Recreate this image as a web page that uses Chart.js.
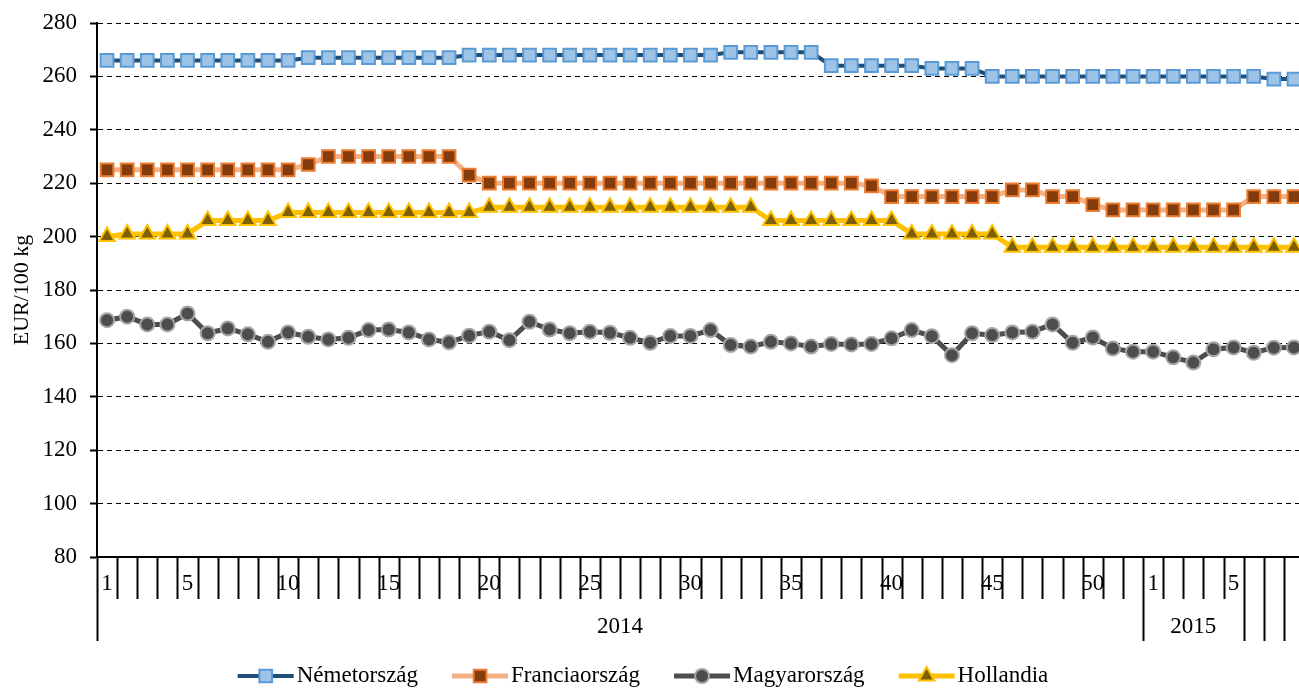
<!DOCTYPE html>
<html>
<head>
<meta charset="utf-8">
<script src="https://cdn.jsdelivr.net/npm/chart.js@4.4.1/dist/chart.umd.min.js"></script>
<style>
  html, body { margin: 0; padding: 0; background: #fff; overflow: hidden; }
  /* the plot runs slightly past the right edge of the window, as in the original */
  #wrap { width: 1304px; height: 688px; position: relative; }
</style>
</head>
<body>
<div id="wrap"><canvas id="myChart"></canvas></div>
<script>
// week labels (2014 weeks 1-52, then 2015 weeks 1-8), only some are printed
const weekLabels = [
  '1','','','','5','','','','','10',
  '','','','','15','','','','','20',
  '','','','','25','','','','','30',
  '','','','','35','','','','','40',
  '','','','','45','','','','','50',
  '','',
  '1','','','','5','','',''
];
const yearLabels = ['2014', '2015', '', '', ''];
const yearSpans = [52, 5, 1, 1, 1];

const seriesNames = ['Németország', 'Franciaország', 'Magyarország', 'Hollandia'];

const germany = [
  266,266,266,266,266,266,266,266,266,266,
  267,267,267,267,267,267,267,267,268,268,
  268,268,268,268,268,268,268,268,268,268,
  268,269,269,269,269,269,264,264,264,264,
  264,263,263,263,260,260,260,260,260,260,
  260,260,260,260,260,260,260,260,259,259
];
const france = [
  225,225,225,225,225,225,225,225,225,225,
  227,230,230,230,230,230,230,230,223,220,
  220,220,220,220,220,220,220,220,220,220,
  220,220,220,220,220,220,220,220,219,215,
  215,215,215,215,215,217.5,217.5,215,215,212,
  210,210,210,210,210,210,210,215,215,215
];
const hungary = [
  168.7,170.0,167.1,167.1,171.2,163.8,165.6,163.4,160.6,164.1,
  162.5,161.5,162.1,165.0,165.2,164.1,161.5,160.4,162.9,164.4,
  161.2,168.1,165.2,163.8,164.4,164.0,162.1,160.2,162.8,162.8,
  165.0,159.4,158.8,160.6,160.0,158.8,159.8,159.6,159.8,161.9,
  165.0,162.7,155.6,163.8,163.1,164.1,164.4,167.1,160.2,162.2,
  158.1,156.9,156.9,154.8,152.8,157.8,158.5,156.5,158.4,158.5
];
const netherlands = [
  200,201,201,201,201,206,206,206,206,209,
  209,209,209,209,209,209,209,209,209,211,
  211,211,211,211,211,211,211,211,211,211,
  211,211,211,206,206,206,206,206,206,206,
  201,201,201,201,201,196,196,196,196,196,
  196,196,196,196,196,196,196,196,196,196
];

const FONT = '"Liberation Serif", "Times New Roman", serif';
Chart.defaults.font.family = FONT;
Chart.defaults.color = '#000';

// category ticks, week labels and year labels under the plot
const axisDecor = {
  id: 'axisDecor',
  afterDraw(chart) {
    const { ctx, chartArea, scales: { x } } = chart;
    const n = weekLabels.length;
    const half = (x.getPixelForValue(1) - x.getPixelForValue(0)) / 2;
    const edge = (i) => i < n ? x.getPixelForValue(i) - half : x.getPixelForValue(n - 1) + half;
    const y0 = chartArea.bottom;

    let bounds = [0]; let acc = 0;
    yearSpans.forEach(s => { acc += s; bounds.push(acc); });

    ctx.save();
    ctx.strokeStyle = '#000';
    ctx.lineWidth = 2;
    for (let i = 0; i <= n; i++) {
      const px = Math.round(edge(i)) + 0.5;
      const len = bounds.includes(i) ? 84 : 42;
      ctx.beginPath();
      ctx.moveTo(px, y0);
      ctx.lineTo(px, y0 + len);
      ctx.stroke();
    }
    ctx.fillStyle = '#000';
    ctx.font = '23px ' + FONT;
    ctx.textAlign = 'center';
    ctx.textBaseline = 'middle';
    weekLabels.forEach((t, i) => {
      if (t) ctx.fillText(t, x.getPixelForValue(i), y0 + 27);
    });
    let start = 0;
    yearSpans.forEach((s, k) => {
      if (yearLabels[k]) ctx.fillText(yearLabels[k], (edge(start) + edge(start + s)) / 2, y0 + 70);
      start += s;
    });
    ctx.restore();
  }
};

// legend: line segment with the marker on it, then the name
const lineLegend = {
  id: 'lineLegend',
  afterDraw(chart) {
    const { ctx } = chart;
    const y = chart.height - 12;
    const segLen = 56, gapText = 3, gapItem = 34;
    ctx.save();
    ctx.font = '23px ' + FONT;
    const widths = chart.data.datasets.map(d => ctx.measureText(d.label).width);
    const total = widths.reduce((a, b) => a + b, 0) + widths.length * (segLen + gapText) + (widths.length - 1) * gapItem;
    let cx = 643 - total / 2;
    chart.data.datasets.forEach((d, i) => {
      ctx.strokeStyle = d.borderColor;
      ctx.lineWidth = d.borderWidth;
      ctx.beginPath();
      ctx.moveTo(cx, y);
      ctx.lineTo(cx + segLen, y);
      ctx.stroke();
      ctx.fillStyle = d.pointBackgroundColor;
      ctx.strokeStyle = d.pointBorderColor;
      ctx.lineWidth = d.pointBorderWidth;
      Chart.helpers.drawPoint(ctx, { pointStyle: d.pointStyle, radius: d.pointRadius, borderWidth: d.pointBorderWidth, rotation: 0 }, cx + segLen / 2, y);
      ctx.fillStyle = '#000';
      ctx.textAlign = 'left';
      ctx.textBaseline = 'middle';
      ctx.fillText(d.label, cx + segLen + gapText, y);
      cx += segLen + gapText + widths[i] + gapItem;
    });
    ctx.restore();
  }
};

const ctx = document.getElementById('myChart').getContext('2d');

const myChart = new Chart(ctx, {
  type: 'line',
  data: {
    labels: weekLabels,
    datasets: [
      {
        label: seriesNames[0], data: germany,
        borderColor: '#1F4E79', borderWidth: 4,
        pointStyle: 'rect', pointRadius: 9, pointBorderWidth: 2,
        pointBackgroundColor: '#9DC3E6', pointBorderColor: '#5B9BD5'
      },
      {
        label: seriesNames[1], data: france,
        borderColor: '#F4B183', borderWidth: 5,
        pointStyle: 'rect', pointRadius: 9, pointBorderWidth: 2,
        pointBackgroundColor: '#843C0C', pointBorderColor: '#ED7D31'
      },
      {
        label: seriesNames[2], data: hungary,
        borderColor: '#4D4D4D', borderWidth: 5,
        pointStyle: 'circle', pointRadius: 7, pointBorderWidth: 2,
        pointBackgroundColor: '#4D4D4D', pointBorderColor: '#A5A5A5'
      },
      {
        label: seriesNames[3], data: netherlands,
        borderColor: '#FFC000', borderWidth: 5,
        pointStyle: 'triangle', pointRadius: 9, pointBorderWidth: 2,
        pointBackgroundColor: '#7F6000', pointBorderColor: '#FFC000'
      }
    ]
  },
  options: {
    responsive: true,
    maintainAspectRatio: false,
    animation: false,
    layout: { autoPadding: false, padding: { top: 23, right: 0, left: 0, bottom: 0 } },
    plugins: {
      legend: { display: false },
      tooltip: { enabled: false }
    },
    elements: { line: { tension: 0 } },
    scales: {
      x: {
        type: 'category',
        offset: true,
        grid: { display: false, drawTicks: false },
        ticks: { display: false },
        border: { display: true, color: '#000', width: 2 },
        afterFit: (scale) => { scale.height = 131; }
      },
      y: {
        min: 80,
        max: 280,
        ticks: { stepSize: 20, padding: 13, color: '#000', font: { size: 23 } },
        grid: { color: '#000', lineWidth: 1, tickLength: 7, tickWidth: 2, tickColor: '#000' },
        border: { display: true, color: '#000', width: 2, dash: [5, 4] },
        title: {
          display: true, text: 'EUR/100 kg', color: '#000',
          font: { size: 22 }, padding: { top: 9, bottom: 0 }
        },
        afterFit: (scale) => { scale.width = 97; scale.paddingTop = 0; }
      }
    }
  },
  plugins: [axisDecor, lineLegend]
});
</script>
</body>
</html>
